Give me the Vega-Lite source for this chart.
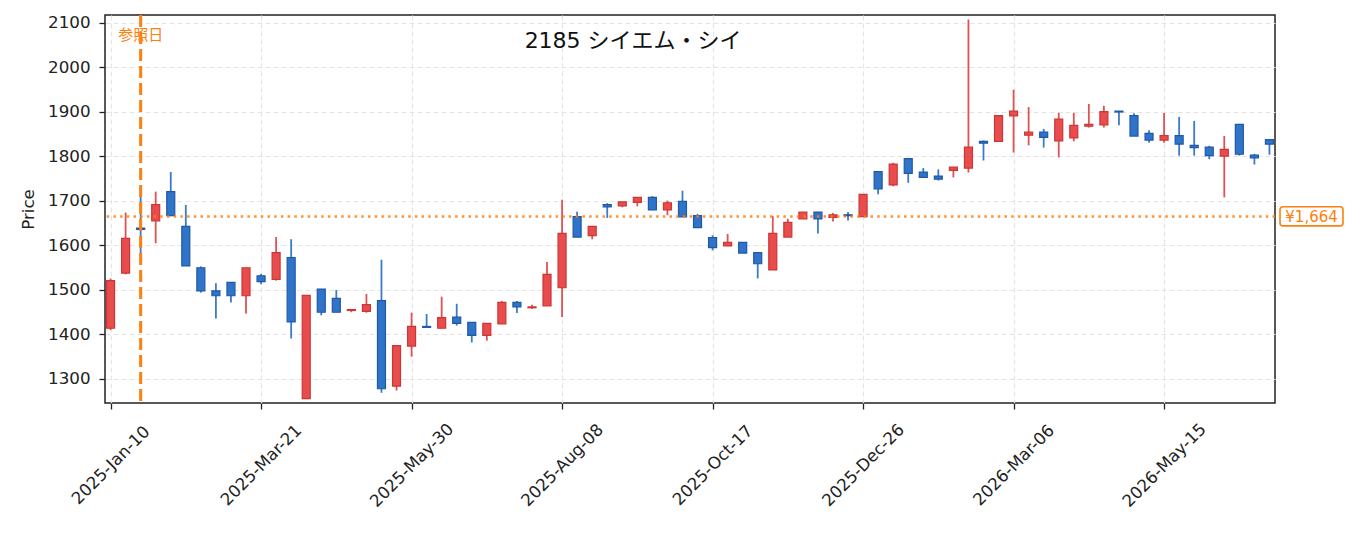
{
  "$schema": "https://vega.github.io/schema/vega-lite/v6.json",
  "width": 1170,
  "height": 388,
  "autosize": {"type": "none"},
  "padding": {"left": 105, "top": 15, "right": 80, "bottom": 130},
  "background": "white",
  "title": {
    "text": "2185  シイエム・シイ",
    "font": "DejaVu Sans, Noto Sans CJK JP",
    "fontSize": 22,
    "fontWeight": "normal",
    "color": "#111111",
    "anchor": "middle",
    "baseline": "middle",
    "dx": -57,
    "dy": 24,
    "offset": -25
  },
  "config": {
    "view": {"stroke": "#222222", "strokeWidth": 1.5},
    "font": "DejaVu Sans, Noto Sans CJK JP",
    "axis": {
      "domain": false,
      "grid": true,
      "gridColor": "#e4e4e4",
      "gridDash": [5, 3],
      "gridWidth": 1.2,
      "tickColor": "#222222",
      "tickWidth": 1.3,
      "tickSize": 6,
      "labelColor": "#222222",
      "labelFont": "DejaVu Sans, Noto Sans CJK JP",
      "labelFontSize": 16.7,
      "titleFont": "DejaVu Sans, Noto Sans CJK JP",
      "titleFontSize": 16.7,
      "titleFontWeight": "normal",
      "titleColor": "#222222"
    }
  },
  "datasets": {
    "candles": [
      {"date": "2025-01-10", "open": 1413, "high": 1525, "low": 1409, "close": 1520},
      {"date": "2025-01-17", "open": 1537, "high": 1673, "low": 1534, "close": 1615},
      {"date": "2025-01-24", "open": 1638, "high": 1728, "low": 1576, "close": 1635},
      {"date": "2025-01-31", "open": 1654, "high": 1720, "low": 1604, "close": 1691},
      {"date": "2025-02-07", "open": 1720, "high": 1764, "low": 1665, "close": 1666},
      {"date": "2025-02-14", "open": 1642, "high": 1690, "low": 1553, "close": 1553},
      {"date": "2025-02-21", "open": 1549, "high": 1552, "low": 1493, "close": 1497},
      {"date": "2025-02-28", "open": 1497, "high": 1514, "low": 1435, "close": 1486},
      {"date": "2025-03-07", "open": 1516, "high": 1516, "low": 1471, "close": 1486},
      {"date": "2025-03-14", "open": 1486, "high": 1549, "low": 1446, "close": 1549},
      {"date": "2025-03-21", "open": 1531, "high": 1535, "low": 1512, "close": 1518},
      {"date": "2025-03-28", "open": 1523, "high": 1618, "low": 1520, "close": 1583},
      {"date": "2025-04-04", "open": 1572, "high": 1613, "low": 1390, "close": 1427},
      {"date": "2025-04-11", "open": 1255, "high": 1487, "low": 1255, "close": 1487},
      {"date": "2025-04-18", "open": 1501, "high": 1501, "low": 1442, "close": 1449},
      {"date": "2025-04-25", "open": 1480, "high": 1499, "low": 1449, "close": 1449},
      {"date": "2025-05-02", "open": 1453, "high": 1456, "low": 1449, "close": 1455},
      {"date": "2025-05-09", "open": 1451, "high": 1490, "low": 1448, "close": 1466},
      {"date": "2025-05-16", "open": 1475, "high": 1567, "low": 1268, "close": 1277},
      {"date": "2025-05-23", "open": 1283, "high": 1374, "low": 1273, "close": 1374},
      {"date": "2025-05-30", "open": 1373, "high": 1448, "low": 1349, "close": 1417},
      {"date": "2025-06-06", "open": 1417, "high": 1445, "low": 1414, "close": 1415},
      {"date": "2025-06-13", "open": 1413, "high": 1484, "low": 1413, "close": 1437},
      {"date": "2025-06-20", "open": 1438, "high": 1468, "low": 1419, "close": 1424},
      {"date": "2025-06-27", "open": 1426, "high": 1426, "low": 1381, "close": 1397},
      {"date": "2025-07-04", "open": 1397, "high": 1424, "low": 1385, "close": 1424},
      {"date": "2025-07-11", "open": 1423, "high": 1474, "low": 1423, "close": 1471},
      {"date": "2025-07-18", "open": 1471, "high": 1474, "low": 1447, "close": 1461},
      {"date": "2025-07-25", "open": 1459, "high": 1466, "low": 1456, "close": 1461},
      {"date": "2025-08-01", "open": 1463, "high": 1562, "low": 1463, "close": 1534},
      {"date": "2025-08-08", "open": 1504, "high": 1702, "low": 1438, "close": 1626},
      {"date": "2025-08-15", "open": 1664, "high": 1675, "low": 1618, "close": 1618},
      {"date": "2025-08-22", "open": 1621, "high": 1642, "low": 1613, "close": 1642},
      {"date": "2025-08-29", "open": 1691, "high": 1694, "low": 1661, "close": 1686},
      {"date": "2025-09-05", "open": 1688, "high": 1697, "low": 1685, "close": 1697},
      {"date": "2025-09-12", "open": 1696, "high": 1707, "low": 1687, "close": 1707},
      {"date": "2025-09-19", "open": 1707, "high": 1710, "low": 1679, "close": 1679},
      {"date": "2025-09-26", "open": 1679, "high": 1700, "low": 1667, "close": 1695},
      {"date": "2025-10-03", "open": 1698, "high": 1722, "low": 1663, "close": 1663},
      {"date": "2025-10-10", "open": 1666, "high": 1670, "low": 1639, "close": 1639},
      {"date": "2025-10-17", "open": 1617, "high": 1622, "low": 1588, "close": 1594},
      {"date": "2025-10-24", "open": 1598, "high": 1625, "low": 1598, "close": 1606},
      {"date": "2025-10-31", "open": 1606, "high": 1606, "low": 1582, "close": 1582},
      {"date": "2025-11-07", "open": 1583, "high": 1583, "low": 1525, "close": 1558},
      {"date": "2025-11-14", "open": 1544, "high": 1665, "low": 1544, "close": 1626},
      {"date": "2025-11-21", "open": 1618, "high": 1659, "low": 1618, "close": 1651},
      {"date": "2025-11-28", "open": 1659, "high": 1674, "low": 1659, "close": 1674},
      {"date": "2025-12-05", "open": 1674, "high": 1674, "low": 1626, "close": 1659},
      {"date": "2025-12-12", "open": 1662, "high": 1672, "low": 1653, "close": 1668},
      {"date": "2025-12-19", "open": 1668, "high": 1674, "low": 1655, "close": 1666},
      {"date": "2025-12-26", "open": 1664, "high": 1714, "low": 1664, "close": 1714},
      {"date": "2026-01-02", "open": 1765, "high": 1765, "low": 1714, "close": 1726},
      {"date": "2026-01-09", "open": 1735, "high": 1785, "low": 1732, "close": 1782},
      {"date": "2026-01-16", "open": 1794, "high": 1794, "low": 1740, "close": 1761},
      {"date": "2026-01-23", "open": 1764, "high": 1773, "low": 1752, "close": 1752},
      {"date": "2026-01-30", "open": 1755, "high": 1770, "low": 1745, "close": 1748},
      {"date": "2026-02-06", "open": 1768, "high": 1775, "low": 1752, "close": 1775},
      {"date": "2026-02-13", "open": 1773, "high": 2107, "low": 1763, "close": 1820},
      {"date": "2026-02-20", "open": 1833, "high": 1835, "low": 1790, "close": 1829},
      {"date": "2026-02-27", "open": 1833, "high": 1891, "low": 1833, "close": 1891},
      {"date": "2026-03-06", "open": 1890, "high": 1949, "low": 1808, "close": 1901},
      {"date": "2026-03-13", "open": 1847, "high": 1910, "low": 1824, "close": 1854},
      {"date": "2026-03-20", "open": 1854, "high": 1861, "low": 1819, "close": 1842},
      {"date": "2026-03-27", "open": 1834, "high": 1897, "low": 1797, "close": 1883},
      {"date": "2026-04-03", "open": 1841, "high": 1897, "low": 1833, "close": 1869},
      {"date": "2026-04-10", "open": 1867, "high": 1917, "low": 1864, "close": 1871},
      {"date": "2026-04-17", "open": 1870, "high": 1913, "low": 1864, "close": 1900},
      {"date": "2026-04-24", "open": 1901, "high": 1901, "low": 1869, "close": 1899},
      {"date": "2026-05-01", "open": 1891, "high": 1896, "low": 1845, "close": 1845},
      {"date": "2026-05-08", "open": 1851, "high": 1858, "low": 1830, "close": 1836},
      {"date": "2026-05-15", "open": 1836, "high": 1897, "low": 1830, "close": 1846},
      {"date": "2026-05-22", "open": 1846, "high": 1888, "low": 1801, "close": 1827},
      {"date": "2026-05-29", "open": 1824, "high": 1879, "low": 1801, "close": 1819},
      {"date": "2026-06-05", "open": 1820, "high": 1823, "low": 1793, "close": 1801},
      {"date": "2026-06-12", "open": 1800, "high": 1845, "low": 1707, "close": 1815},
      {"date": "2026-06-19", "open": 1871, "high": 1871, "low": 1801, "close": 1804},
      {"date": "2026-06-26", "open": 1802, "high": 1805, "low": 1781, "close": 1796},
      {"date": "2026-07-03", "open": 1837, "high": 1837, "low": 1803, "close": 1827}
    ],
    "marker": [
      {"ref_date": "2025-01-24", "ref_price": 1664, "ref_label": "参照日", "price_label": "¥1,664"}
    ]
  },
  "layer": [
    {
      "data": {"name": "candles"},
      "mark": {"type": "rule", "strokeWidth": 1.8},
      "encoding": {
        "x": {
          "field": "date",
          "type": "temporal",
          "scale": {"type": "utc", "nice": false, "padding": 0, "domain": [{"year": 2025, "month": 1, "date": 7, "hours": 10, "utc": true}, {"year": 2026, "month": 7, "date": 5, "hours": 14, "utc": true}]},
          "axis": {
            "title": null,
            "values": [
              {"year": 2025, "month": 1, "date": 10, "utc": true},
              {"year": 2025, "month": 3, "date": 21, "utc": true},
              {"year": 2025, "month": 5, "date": 30, "utc": true},
              {"year": 2025, "month": 8, "date": 8, "utc": true},
              {"year": 2025, "month": 10, "date": 17, "utc": true},
              {"year": 2025, "month": 12, "date": 26, "utc": true},
              {"year": 2026, "month": 3, "date": 6, "utc": true},
              {"year": 2026, "month": 5, "date": 15, "utc": true}
            ],
            "format": "%Y-%b-%d",
            "labelAngle": -45,
            "labelAlign": "center",
            "labelBaseline": "middle",
            "labelPadding": 56,
            "labelOverlap": false
          }
        },
        "y": {
          "field": "low",
          "type": "quantitative",
          "scale": {"domain": [1245, 2117], "nice": false, "zero": false},
          "axis": {
            "title": "Price",
            "format": "d",
            "values": [1300, 1400, 1500, 1600, 1700, 1800, 1900, 2000, 2100],
            "labelPadding": 9,
            "titlePadding": 10
          }
        },
        "y2": {"field": "high"},
        "color": {"condition": {"test": "datum.close >= datum.open", "value": "#e05252"}, "value": "#3a7bcb"}
      }
    },
    {
      "data": {"name": "candles"},
      "mark": {"type": "bar", "width": 8, "strokeWidth": 1.2},
      "encoding": {
        "x": {"field": "date", "type": "temporal", "title": null, "scale": {"type": "utc", "nice": false, "padding": 0}},
        "y": {"field": "open", "type": "quantitative", "title": "Price", "scale": {"nice": false, "zero": false}},
        "y2": {"field": "close"},
        "fill": {"condition": {"test": "datum.close >= datum.open", "value": "#e84c4c"}, "value": "#2f74c8"},
        "stroke": {"condition": {"test": "datum.close >= datum.open", "value": "#cc3636"}, "value": "#1f58a8"}
      }
    },
    {
      "data": {"name": "marker"},
      "mark": {"type": "rule", "color": "#ff7f0e", "strokeWidth": 3, "strokeDash": [12, 5]},
      "encoding": {
        "x": {"field": "ref_date", "type": "temporal", "title": null, "scale": {"type": "utc", "nice": false, "padding": 0}}
      }
    },
    {
      "data": {"name": "marker"},
      "mark": {"type": "rule", "color": "#ff7f0e", "opacity": 0.85, "strokeWidth": 2.5, "strokeDash": [2.5, 4.2]},
      "encoding": {
        "y": {"field": "ref_price", "type": "quantitative", "title": "Price", "scale": {"nice": false, "zero": false}}
      }
    },
    {
      "data": {"name": "marker"},
      "mark": {"type": "text", "color": "#ff7f0e", "fontSize": 15, "font": "Noto Sans CJK JP", "align": "center", "baseline": "middle"},
      "encoding": {
        "x": {"field": "ref_date", "type": "temporal", "title": null, "scale": {"type": "utc", "nice": false, "padding": 0}},
        "y": {"datum": 2073, "type": "quantitative", "scale": {"nice": false, "zero": false}},
        "text": {"field": "ref_label"}
      }
    },
    {
      "data": {"name": "marker"},
      "mark": {"type": "rect", "fill": "white", "stroke": "#ff7f0e", "strokeWidth": 1.6, "cornerRadius": 3},
      "encoding": {
        "x": {"datum": {"year": 2026, "month": 7, "date": 7, "hours": 22, "utc": true}, "type": "temporal", "scale": {"type": "utc", "nice": false, "padding": 0}},
        "x2": {"datum": {"year": 2026, "month": 8, "date": 6, "hours": 5, "utc": true}},
        "y": {"datum": 1643, "type": "quantitative", "scale": {"nice": false, "zero": false}},
        "y2": {"datum": 1686}
      }
    },
    {
      "data": {"name": "marker"},
      "mark": {"type": "text", "color": "#ff7f0e", "fontSize": 15, "align": "center", "baseline": "middle"},
      "encoding": {
        "x": {"datum": {"year": 2026, "month": 7, "date": 22, "hours": 14, "utc": true}, "type": "temporal", "scale": {"type": "utc", "nice": false, "padding": 0}},
        "y": {"field": "ref_price", "type": "quantitative", "scale": {"nice": false, "zero": false}},
        "text": {"field": "price_label"}
      }
    }
  ]
}
